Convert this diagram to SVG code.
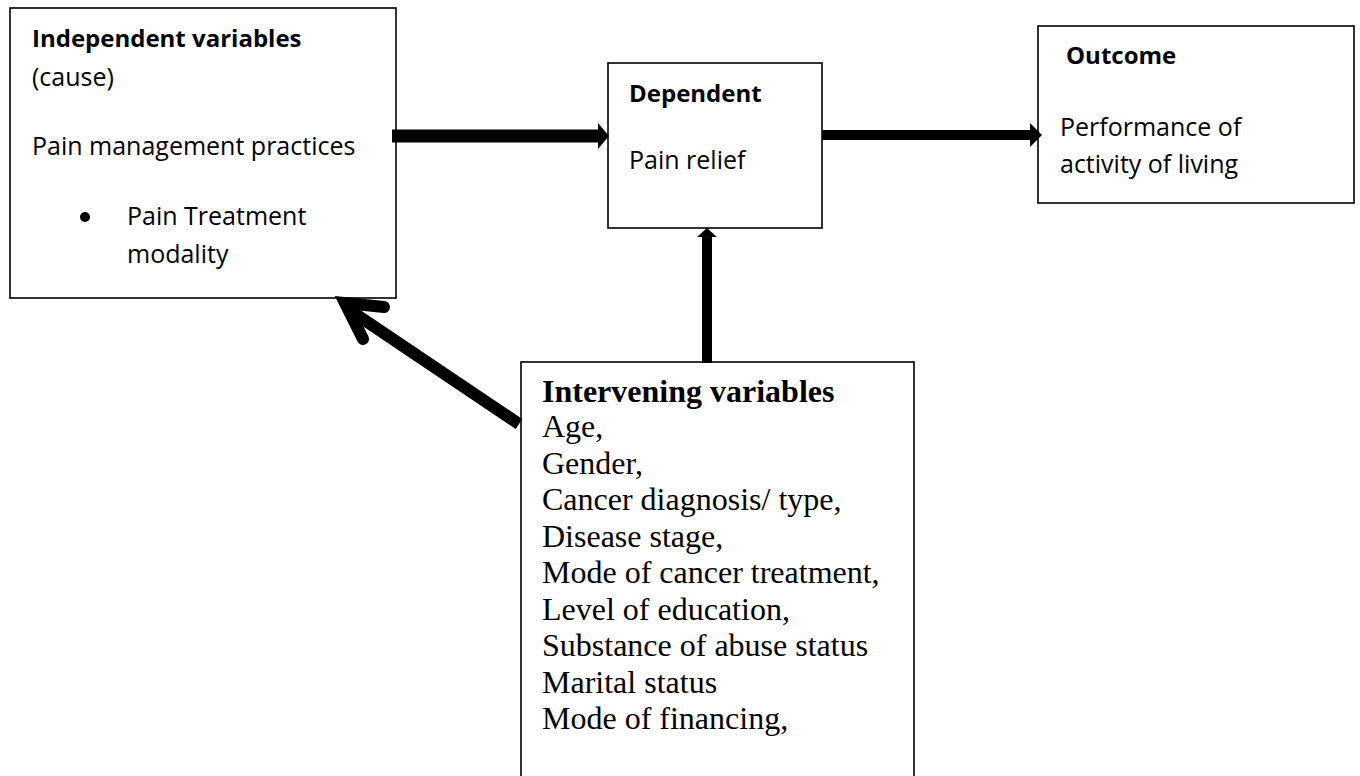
<svg xmlns="http://www.w3.org/2000/svg" width="1360" height="776" viewBox="0 0 1360 776">
<style>
.box{fill:#fff;stroke:#000;stroke-width:1.6}
.s{font-family:"Open Sans","Liberation Sans",sans-serif;font-size:25px;fill:#000}
.sb{font-family:"Open Sans","Liberation Sans",sans-serif;font-size:24px;font-weight:bold;fill:#000}
.t{font-family:"Liberation Serif","Times New Roman",serif;font-size:32px;fill:#000}
.tb{font-family:"Liberation Serif","Times New Roman",serif;font-size:32px;font-weight:bold;fill:#000}
</style>
<rect width="1360" height="776" fill="#fff"/>
<g id="independent">
<rect class="box" x="10" y="8" width="386" height="290"/>
<text class="sb" x="32" y="47">Independent variables</text>
<text class="s" x="32" y="86">(cause)</text>
<text class="s" x="32" y="155">Pain management practices</text>
<circle cx="85" cy="217" r="5" fill="#000"/>
<text class="s" x="127" y="225">Pain Treatment</text>
<text class="s" x="127" y="263">modality</text>
</g>
<g id="dependent">
<rect class="box" x="608" y="63" width="214" height="165"/>
<text class="sb" x="629" y="102">Dependent</text>
<text class="s" x="629" y="169">Pain relief</text>
</g>
<g id="outcome">
<rect class="box" x="1038" y="26" width="316" height="177"/>
<text class="sb" x="1066" y="64">Outcome</text>
<text class="s" x="1060" y="136">Performance of</text>
<text class="s" x="1060" y="173">activity of living</text>
</g>
<g id="intervening">
<rect class="box" x="521" y="362" width="393" height="430"/>
<text class="tb" x="542" y="402">Intervening variables</text>
<text class="t" x="542" y="437">Age,</text>
<text class="t" x="542" y="473.5">Gender,</text>
<text class="t" x="542" y="510">Cancer diagnosis/ type,</text>
<text class="t" x="542" y="546.5">Disease stage,</text>
<text class="t" x="542" y="583">Mode of cancer treatment,</text>
<text class="t" x="542" y="619.5">Level of education,</text>
<text class="t" x="542" y="656">Substance of abuse status</text>
<text class="t" x="542" y="692.5">Marital status</text>
<text class="t" x="542" y="729">Mode of financing,</text>
</g>
<g id="connectors">
<rect x="392" y="129.5" width="207" height="13" fill="#000"/>
<polygon points="598,123 609,136 598,149" fill="#000"/>
<rect x="822" y="130" width="209" height="10" fill="#000"/>
<polygon points="1030,123 1042,135 1030,147" fill="#000"/>
<rect x="702" y="235" width="10" height="128" fill="#000"/>
<polygon points="697,237 707,228 717,237" fill="#000"/>
<line x1="519" y1="424" x2="348" y2="309" stroke="#000" stroke-width="12"/>
<path d="M384,307 L345,303 L363,339" fill="none" stroke="#000" stroke-width="12" stroke-linecap="round" stroke-linejoin="miter" stroke-miterlimit="6"/>
</g>
</svg>
